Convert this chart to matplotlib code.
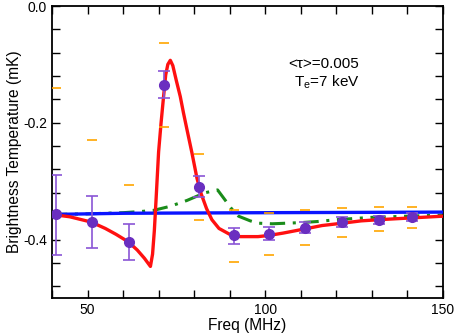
import matplotlib
matplotlib.use("Agg")
import matplotlib.pyplot as plt
from matplotlib.ticker import FixedLocator, MultipleLocator

plt.rcParams['font.family'] = ['Liberation Sans', 'DejaVu Sans']
plt.rcParams['mathtext.fontset'] = 'custom'
plt.rcParams['mathtext.rm'] = 'Liberation Sans'
plt.rcParams['mathtext.it'] = 'Liberation Sans'

# Data points with error bars
pt_freq = [41.0, 51.3, 61.6, 71.6, 81.3, 91.1, 101.2, 111.1, 121.7, 131.9, 141.2]
pt_val = [-0.357, -0.370, -0.405, -0.135, -0.310, -0.393, -0.391, -0.380, -0.370, -0.366, -0.362]
pt_err_hi = [0.068, 0.044, 0.031, 0.023, 0.018, 0.013, 0.012, 0.010, 0.008, 0.007, 0.007]
pt_err_lo = [0.069, 0.045, 0.030, 0.023, 0.017, 0.014, 0.010, 0.009, 0.008, 0.007, 0.007]

# Orange bounds
ob_upper = [-0.141, -0.230, -0.307, -0.063, -0.254, -0.349, -0.354, -0.350, -0.346, -0.344, -0.344]
ob_lower = [-0.573, -0.510, -0.503, -0.207, -0.366, -0.438, -0.427, -0.410, -0.395, -0.386, -0.381]

# Red model curve
red_freq = [40, 45, 51, 55, 58, 61.5, 64, 66, 67.7, 68.3, 68.8, 69.3, 70.0, 70.7, 71.4,
            72.0, 72.6, 73.3, 74.0, 75.0, 76.1, 77.0, 78.0, 79.4, 80.8, 82.0, 83.5, 85.0,
            87, 90, 93, 98, 101, 105, 111, 116, 121.7, 127, 132, 141, 150]
red_val = [-0.357, -0.361, -0.370, -0.381, -0.391, -0.404, -0.418, -0.432, -0.446, -0.425,
           -0.385, -0.330, -0.250, -0.200, -0.155, -0.118, -0.100, -0.093, -0.102, -0.128,
           -0.155, -0.183, -0.212, -0.252, -0.295, -0.322, -0.347, -0.366, -0.381, -0.391,
           -0.395, -0.395, -0.393, -0.389, -0.382, -0.376, -0.372, -0.368, -0.366, -0.363, -0.360]

# Green dash-dot curve
green_freq = [40, 50, 55, 60, 65, 68.6, 73.3, 78, 83, 86.6, 88.8, 90.5, 92.5, 95.8, 98,
              102, 106, 110, 115, 120, 130, 140, 150]
green_val = [-0.357, -0.356, -0.355, -0.354, -0.352, -0.350, -0.343, -0.333, -0.320, -0.315,
             -0.333, -0.347, -0.360, -0.368, -0.372, -0.373, -0.372, -0.371, -0.369, -0.366,
             -0.362, -0.360, -0.358]

# Blue flat curve
blue_freq = [40, 60, 100, 150]
blue_val = [-0.357, -0.355, -0.354, -0.353]

x_ticks = [50, 100, 150]
x_tick_labels = ['50', '100', '150']
y_ticks = [0.0, -0.2, -0.4]
y_tick_labels = ['0.0', '-0.2', '-0.4']

fig = plt.figure(figsize=(4.57, 3.34), dpi=100)
ax = fig.add_axes([0.1138, 0.108, 0.8552, 0.874])

ax.plot(green_freq, green_val, color='#1a8c1a', lw=2.2, linestyle=(0, (5, 2.5, 1, 2.5)), zorder=2)
ax.plot(blue_freq, blue_val, color='#0a14ff', lw=2.4, zorder=3)
ax.plot(red_freq, red_val, color='#ff1010', lw=2.4, zorder=4, solid_joinstyle='round')
ax.plot(pt_freq, ob_upper, linestyle='none', marker='_', color='#ffa500', markersize=7.5, markeredgewidth=1.2, zorder=5)
ax.plot(pt_freq, ob_lower, linestyle='none', marker='_', color='#ffa500', markersize=7.5, markeredgewidth=1.2, zorder=5)
ax.errorbar(pt_freq, pt_val, yerr=[pt_err_lo, pt_err_hi], fmt='o', color='#6a2ec0',
            ecolor='#8a55d6', elinewidth=1.2, capsize=4, capthick=1.2, markersize=7, zorder=6)

ax.set_xlim(40, 150)
ax.set_ylim(-0.5, 0.0)
ax.xaxis.set_major_locator(FixedLocator(x_ticks))
ax.set_xticklabels(x_tick_labels)
ax.xaxis.set_minor_locator(MultipleLocator(10))
ax.yaxis.set_major_locator(FixedLocator(y_ticks))
ax.set_yticklabels(y_tick_labels)
ax.yaxis.set_minor_locator(MultipleLocator(0.04))
ax.tick_params(which='both', direction='in', top=True, right=True, length=6, width=1.0, labelsize=10)
for s in ax.spines.values():
    s.set_linewidth(1.3)

ax.set_xlabel('Freq (MHz)', fontsize=11.2, labelpad=1)
ax.set_ylabel('Brightness Temperature (mK)', fontsize=11.2, labelpad=1)

ax.text(126.5, -0.106, '<\u03c4>=0.005', fontsize=11, ha='right', va='baseline')
ax.text(126.5, -0.138, 'T$_{\\mathrm{e}}$=7 keV', fontsize=11, ha='right', va='baseline')

fig.savefig('out.png', dpi=100)
